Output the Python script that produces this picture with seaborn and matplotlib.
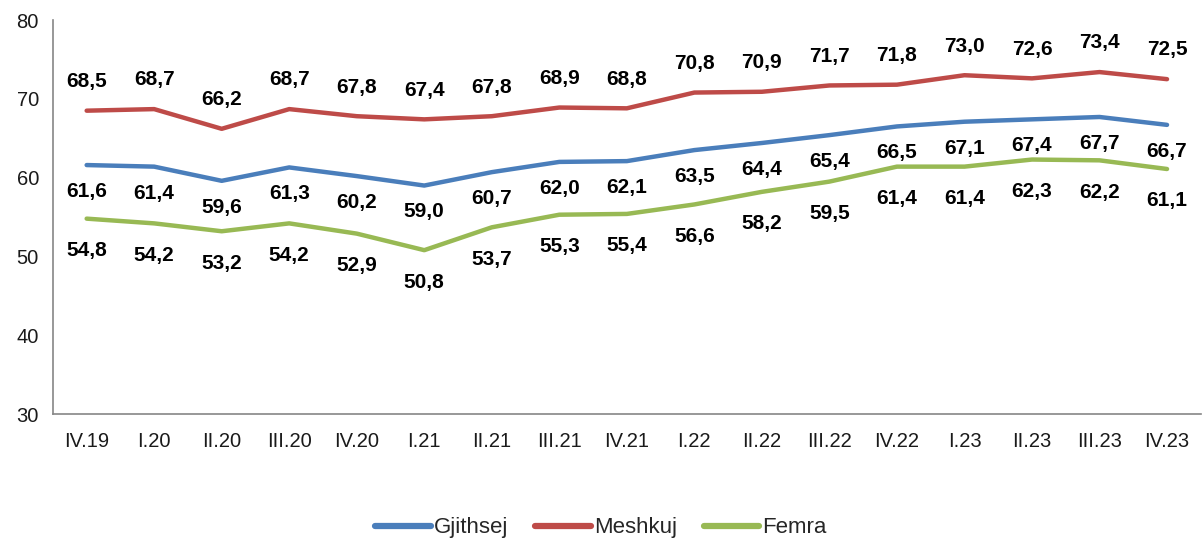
import numpy as np
import pandas as pd
import seaborn as sns
import matplotlib.pyplot as plt

# Periudhat (tremujoret)
periudhat = ["IV.19", "I.20", "II.20", "III.20", "IV.20", "I.21", "II.21", "III.21", "IV.21",
             "I.22", "II.22", "III.22", "IV.22", "I.23", "II.23", "III.23", "IV.23"]

# Vlerat per seri
gjithsej = [61.6, 61.4, 59.6, 61.3, 60.2, 59.0, 60.7, 62.0, 62.1,
            63.5, 64.4, 65.4, 66.5, 67.1, 67.4, 67.7, 66.7]
meshkuj = [68.5, 68.7, 66.2, 68.7, 67.8, 67.4, 67.8, 68.9, 68.8,
           70.8, 70.9, 71.7, 71.8, 73.0, 72.6, 73.4, 72.5]
femra = [54.8, 54.2, 53.2, 54.2, 52.9, 50.8, 53.7, 55.3, 55.4,
         56.6, 58.2, 59.5, 61.4, 61.4, 62.3, 62.2, 61.1]

sns.set_theme(style="white")
plt.rcParams['font.family'] = ['Liberation Sans', 'DejaVu Sans']

df = pd.DataFrame({"periudha": periudhat, "Gjithsej": gjithsej,
                   "Meshkuj": meshkuj, "Femra": femra})
df_long = df.melt(id_vars="periudha", var_name="seria", value_name="vlera")

ngjyrat = {"Gjithsej": "#4A7EBB", "Meshkuj": "#BE4B48", "Femra": "#98B954"}

fig, ax = plt.subplots(figsize=(12.02, 5.42), dpi=100)
fig.subplots_adjust(left=0.044, right=0.999, top=0.963, bottom=0.236)

sns.lineplot(data=df_long, x="periudha", y="vlera", hue="seria", palette=ngjyrat,
             linewidth=3.2, sort=False, ax=ax)

# etiketat e vlerave (me presje dhjetore)
zhvendosje = {"Meshkuj": 21, "Gjithsej": -19, "Femra": -23}
for seria, dy in zhvendosje.items():
    for i, v in enumerate(df[seria]):
        ax.annotate(f"{v:.1f}".replace(".", ","), (i, v), xytext=(0, dy),
                    textcoords="offset points", ha="center", va="center",
                    fontsize=15, fontweight="bold", color="black")

ax.set_xlim(-0.5, len(periudhat) - 0.5)
ax.set_ylim(30, 80)
ax.set_yticks(range(30, 81, 10))
ax.set_xlabel("")
ax.set_ylabel("")

for s in ["top", "right"]:
    ax.spines[s].set_visible(False)
for s in ["left", "bottom"]:
    ax.spines[s].set_color("#868686")
    ax.spines[s].set_linewidth(1.2)

ax.set_xticks(np.arange(-0.5, len(periudhat), 1), minor=True)
ax.tick_params(axis="x", which="major", length=0, pad=13, labelsize=14.5, colors="#1a1a1a")
ax.tick_params(axis="x", which="minor", length=6, width=1.2, color="#868686", direction="out")
ax.tick_params(axis="y", which="major", length=6, width=1.2, color="#868686",
               direction="out", labelsize=14.5, labelcolor="#1a1a1a", pad=4)

handles, labels = ax.get_legend_handles_labels()
ax.get_legend().remove()
leg = fig.legend(handles, labels, loc="center", bbox_to_anchor=(0.5, 0.026), ncol=3,
                 frameon=False, fontsize=16, handlelength=2.5, columnspacing=1.2,
                 handletextpad=0.15)
for h in leg.get_lines():
    h.set_linewidth(4.5)

plt.savefig("out.png", dpi=100)
